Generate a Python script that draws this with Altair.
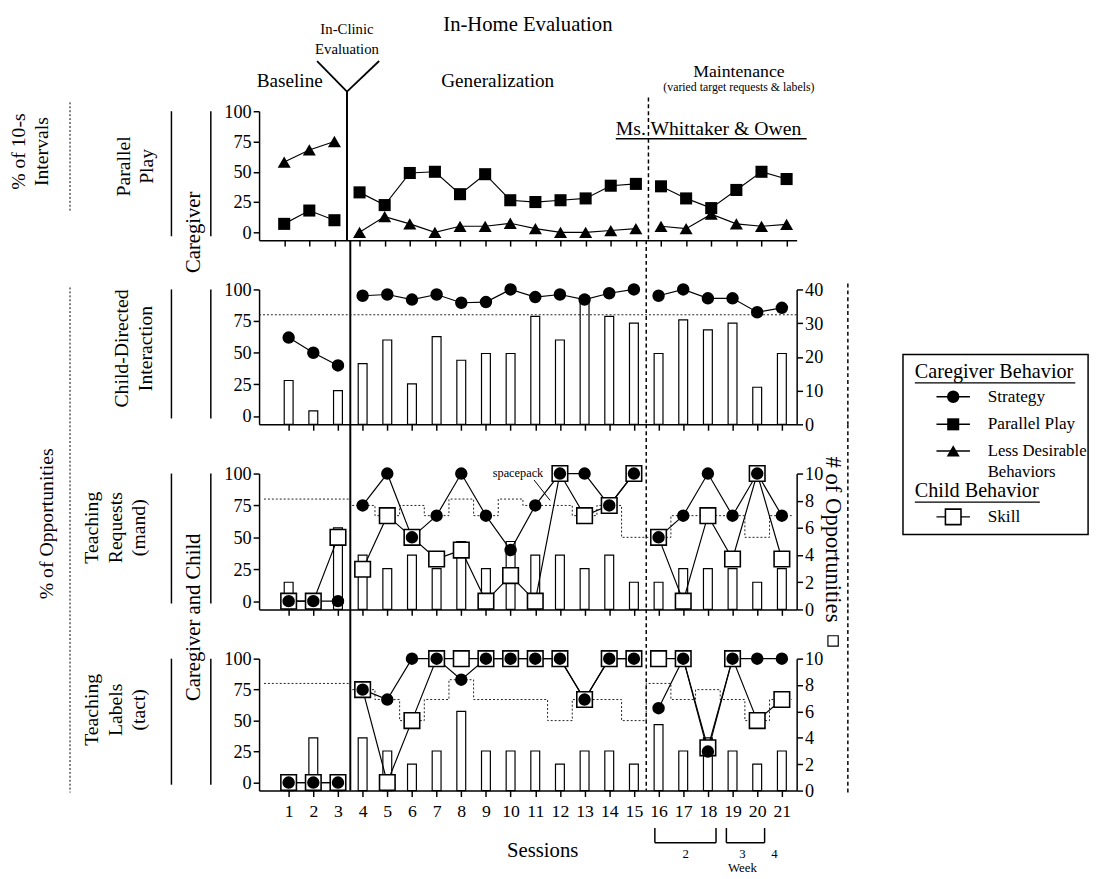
import altair as alt
import pandas as pd

# ---------------- data ----------------
sessions = list(range(1, 22))
phase_of_session = ["Baseline"] * 3 + ["Generalization"] * 12 + ["Maintenance"] * 6
phase_changes = [3.5, 15.5]

# Panel 1: Parallel Play (% of 10-s intervals)
parallel_play = [7, 18, 10, 33, 22.5, 49, 50, 31.5, 48, 26.5, 25, 26.5, 28, 38.5, 40, 38, 28, 20, 35, 50, 44]
less_desirable = [58, 68, 75, 0, 13, 7, 0, 5, 5, 7.5, 3, 0, 0, 1.5, 3, 5, 3, 15, 7, 5, 6.5]

# Panel 2: Child-Directed Interaction
cdi_strategy = [62, 50, 40, 95, 96, 92, 96, 89.5, 90, 100, 94, 96, 92, 97, 100, 95, 100, 93, 93, 82, 85.5]
cdi_opportunities = [13, 4, 10, 18, 25, 12, 26, 19, 21, 21, 32, 25, 38, 32, 30, 21, 31, 28, 30, 11, 21]
cdi_criterion = 80

# Panel 3: Teaching Requests (mand)
mand_strategy = [0, 0, 0, 75, 100, 50, 67, 100, 67, 40, 75, 100, 100, 75, 100, 50, 67, 100, 67, 100, 67]
mand_skill = [0, 0, 50, 25, 67, 50, 33, 40, 0, 20, 0, 100, 67, 75, 100, 50, 0, 67, 33, 100, 33]
mand_opportunities = [2, 1, 6, 4, 3, 4, 3, 5, 3, 5, 4, 4, 3, 4, 2, 2, 3, 3, 3, 2, 3]
mand_criterion = [80, 80, 80, 75, 67, 75, 67, 80, 67, 80, 75, 75, 67, 75, 50, 50, 67, 67, 67, 50, 67]

# Panel 4: Teaching Labels (tact)
tact_strategy = [0, 0, 0, 75, 67, 100, 100, 83, 100, 100, 100, 100, 67, 100, 100, 60, 100, 25, 100, 100, 100]
tact_skill = [0, 0, 0, 75, 0, 50, 100, 100, 100, 100, 100, 100, 67, 100, 100, 100, 100, 28, 100, 50, 67]
tact_opportunities = [1, 4, 1, 4, 3, 2, 3, 6, 3, 3, 3, 2, 3, 3, 2, 5, 3, 4, 3, 2, 3]
tact_criterion = [80, 80, 80, 75, 67, 50, 67, 83, 67, 67, 67, 50, 67, 67, 50, 80, 67, 75, 67, 50, 67]

left_ticks = [0, 25, 50, 75, 100]
cdi_opp_ticks = [0, 10, 20, 30, 40]
teach_opp_ticks = [0, 2, 4, 6, 8, 10]

week_bracket_start = [15.85, 18.75]
week_bracket_end = [18.33, 20.3]
week_labels = ["2", "3", "4"]
week_label_pos = [17.1, 19.4, 20.7]

# ---------------- layout constants ----------------
FONT = "Liberation Serif"
W, GAP = 546, 50
H1, H2, H3, H4 = 131, 137, 138, 134
XMAX = 21.4
YMIN = -6.5
ONE = pd.DataFrame({"k": [0]})


def series(vals):
    return pd.DataFrame({"session": sessions, "phase": phase_of_session, "value": vals})


def criterion_df(vals):
    return pd.DataFrame({"session": [0] + sessions + [XMAX], "value": [vals[0]] + vals + [vals[-1]]})


def make_X(labels):
    def X(field="session"):
        return alt.X(
            f"{field}:Q",
            scale=alt.Scale(domain=[0, XMAX], nice=False, zero=False),
            axis=alt.Axis(values=sessions, labels=labels, title=None, grid=False,
                          tickSize=6, tickWidth=1.5, tickColor="black",
                          domainWidth=1.5, domainColor="black",
                          labelFont=FONT, labelFontSize=18, labelColor="black",
                          labelPadding=6, labelFlush=False, labelOverlap=False),
        )
    return X


def Y(field="value"):
    return alt.Y(
        f"{field}:Q",
        scale=alt.Scale(domain=[YMIN, 100], nice=False, zero=False),
        axis=alt.Axis(values=left_ticks, title=None, grid=False, orient="left",
                      tickSize=6, tickWidth=1.5, tickColor="black",
                      domainWidth=1.5, domainColor="black",
                      labelFont=FONT, labelFontSize=18.5, labelColor="black",
                      labelPadding=2, labelFlush=False, labelOverlap=False),
    )


def YR(top, ticks):
    return alt.Y(
        "opps:Q",
        scale=alt.Scale(domain=[0, top], nice=False, zero=True),
        axis=alt.Axis(values=ticks, title=None, grid=False, orient="right",
                      tickSize=6, tickWidth=1.5, tickColor="black",
                      domainWidth=1.5, domainColor="black",
                      labelFont=FONT, labelFontSize=18.5, labelColor="black",
                      labelPadding=2, labelFlush=False, labelOverlap=False),
    )


def txt(text, x, y, size, angle=0, align="center", baseline="middle"):
    kw = dict(text=text, font=FONT, fontSize=size, color="black", align=align, baseline=baseline)
    if angle:
        kw["angle"] = angle
    return alt.Chart(ONE).mark_text(**kw).encode(x=alt.value(x), y=alt.value(y))


def prule(x1, y1, x2=None, y2=None, width=1.5, dash=None):
    kw = dict(color="black", strokeWidth=width)
    if dash:
        kw["strokeDash"] = dash
    enc = dict(x=alt.value(x1), y=alt.value(y1))
    if x2 is not None:
        enc["x2"] = alt.value(x2)
    if y2 is not None:
        enc["y2"] = alt.value(y2)
    return alt.Chart(ONE).mark_rule(**kw).encode(**enc)


def phase_lines(X, h, top_solid, top_dashed):
    solid = alt.Chart(pd.DataFrame({"session": [phase_changes[0]]})).mark_rule(
        color="black", strokeWidth=2).encode(x=X(), y=alt.value(top_solid), y2=alt.value(h))
    dashed = alt.Chart(pd.DataFrame({"session": [phase_changes[1]]})).mark_rule(
        color="black", strokeWidth=1.5, strokeDash=[4, 3]).encode(x=X(), y=alt.value(top_dashed), y2=alt.value(h))
    return [solid, dashed]


def line_pts(X, vals, shape, size, open_=False, width=1.2):
    df = series(vals)
    line = alt.Chart(df).mark_line(color="black", strokeWidth=width).encode(x=X(), y=Y(), detail="phase:N")
    if open_:
        pts = alt.Chart(df).mark_point(shape=shape, size=size, filled=True, fill="white",
                                       stroke="black", strokeWidth=1.6, opacity=1).encode(x=X(), y=Y())
    else:
        pts = alt.Chart(df).mark_point(shape=shape, size=size, filled=True, color="black",
                                       opacity=1).encode(x=X(), y=Y())
    return line, pts


def bars(X, vals, top, ticks):
    df = pd.DataFrame({"session": sessions, "opps": vals})
    return alt.Chart(df).mark_bar(size=9, fill="white", stroke="black", strokeWidth=1.2,
                                  orient="vertical").encode(x=X(), y=YR(top, ticks))


def step_line(X, vals):
    return alt.Chart(criterion_df(vals)).mark_line(
        interpolate="step", color="#222", strokeWidth=1, strokeDash=[2, 2]).encode(x=X(), y=Y())


SQ, TRI, CIR, OSQ = 150, 175, 160, 250

# ---------------- Panel 1 ----------------
X1 = make_X(False)
pp_line, pp_pts = line_pts(X1, parallel_play, "square", SQ)
ld_line, ld_pts = line_pts(X1, less_desirable, "triangle-up", TRI)

headers = pd.DataFrame({"session": [1.22, 9.5], "label": ["Baseline", "Generalization"]})
hdr = alt.Chart(headers).mark_text(font=FONT, fontSize=19.5, color="black").encode(
    x=X1(), y=alt.value(-31), text="label:N")
maint = alt.Chart(pd.DataFrame({"session": [19.1]})).mark_text(
    text="Maintenance", font=FONT, fontSize=18, color="black").encode(x=X1(), y=alt.value(-40))
varied = alt.Chart(pd.DataFrame({"session": [19.1]})).mark_text(
    text="(varied target requests & labels)", font=FONT, fontSize=12, color="black").encode(x=X1(), y=alt.value(-25))
title = alt.Chart(pd.DataFrame({"session": [10.7]})).mark_text(
    text="In-Home Evaluation", font=FONT, fontSize=21, color="black").encode(x=X1(), y=alt.value(-87))
clinic = alt.Chart(pd.DataFrame({"session": [3.5, 3.5], "label": ["In-Clinic", "Evaluation"],
                                 "py": [-83, -63]})).mark_text(font=FONT, fontSize=15, color="black").encode(
    x=X1(), y=alt.Y("py:Q", scale=None), text="label:N")
vee = alt.Chart(pd.DataFrame({"session": [2.31, 4.78], "session2": [3.5, 3.5]})).mark_rule(
    color="black", strokeWidth=1.8).encode(x=X1(), x2="session2:Q", y=alt.value(-51), y2=alt.value(-20))
ms = alt.Chart(pd.DataFrame({"session": [14.2]})).mark_text(
    text="Ms. Whittaker & Owen", font=FONT, fontSize=20, color="black", align="left",
    baseline="alphabetic").encode(x=X1(), y=alt.value(24))
ms_ul = alt.Chart(pd.DataFrame({"session": [14.2], "session2": [21.8]})).mark_rule(
    color="black", strokeWidth=1.5).encode(x=X1(), x2="session2:Q", y=alt.value(28))

p1_left = [
    txt("% of 10-s", -244, 41, 20, angle=270),
    txt("Intervals", -220, 41, 20, angle=270),
    prule(-192, -9, y2=103, width=1, dash=[2, 2]),
    txt("Parallel", -137, 56, 20, angle=270),
    txt("Play", -114, 56, 20, angle=270),
    prule(-89, 0, y2=H1 - 4, width=1.5),
    prule(-49, 0, y2=H1 - 4, width=1.5),
    txt("Caregiver", -66, 123, 21, angle=270),
]

p1 = alt.layer(*phase_lines(X1, H1, -20, -14), pp_line, ld_line, pp_pts, ld_pts,
               hdr, maint, varied, title, clinic, vee, ms, ms_ul, *p1_left).properties(width=W, height=H1)

# ---------------- Panel 2 ----------------
X2 = make_X(False)
cdi_line, cdi_pts = line_pts(X2, cdi_strategy, "circle", CIR)
crit2 = alt.Chart(pd.DataFrame({"value": [cdi_criterion]})).mark_rule(
    color="#222", strokeWidth=1, strokeDash=[2, 2]).encode(y=Y())

LX, LY = 654, 4
legend = [
    alt.Chart(ONE).mark_rect(fill="white", stroke="black", strokeWidth=1.5).encode(
        x=alt.value(LX), x2=alt.value(LX + 188), y=alt.value(LY + 62), y2=alt.value(LY + 245)),
    txt("Caregiver Behavior", LX + 12, LY + 80, 20.5, align="left"),
    prule(LX + 12, LY + 91, x2=LX + 175, width=1.3),
    prule(LX + 34, LY + 105, x2=LX + 68, width=1.5),
    alt.Chart(ONE).mark_point(shape="circle", size=CIR, filled=True, color="black", opacity=1).encode(
        x=alt.value(LX + 51), y=alt.value(LY + 105)),
    txt("Strategy", LX + 86, LY + 105, 17.5, align="left"),
    prule(LX + 34, LY + 133, x2=LX + 68, width=1.5),
    alt.Chart(ONE).mark_point(shape="square", size=SQ, filled=True, color="black", opacity=1).encode(
        x=alt.value(LX + 51), y=alt.value(LY + 133)),
    txt("Parallel Play", LX + 86, LY + 133, 17.5, align="left"),
    prule(LX + 34, LY + 160, x2=LX + 68, width=1.5),
    alt.Chart(ONE).mark_point(shape="triangle-up", size=TRI, filled=True, color="black", opacity=1).encode(
        x=alt.value(LX + 51), y=alt.value(LY + 160)),
    txt("Less Desirable", LX + 86, LY + 160, 17, align="left"),
    txt("Behaviors", LX + 86, LY + 181, 17, align="left"),
    txt("Child Behavior", LX + 12, LY + 201, 20.5, align="left"),
    prule(LX + 12, LY + 212, x2=LX + 139, width=1.3),
    prule(LX + 34, LY + 227, x2=LX + 68, width=1.5),
    alt.Chart(ONE).mark_point(shape="square", size=OSQ, filled=True, fill="white", stroke="black",
                              strokeWidth=1.6, opacity=1).encode(x=alt.value(LX + 51), y=alt.value(LY + 227)),
    txt("Skill", LX + 86, LY + 227, 17.5, align="left"),
]

p2_left = [
    txt("% of Opportunities", -215, 238, 20, angle=270),
    prule(-192, -2, y2=H2 + GAP + H3 + GAP + H4 + 2, width=1, dash=[2, 2]),
    txt("Child-Directed", -139, 60, 20, angle=270),
    txt("Interaction", -115, 60, 20, angle=270),
    prule(-89, 0, y2=H2 - 6, width=1.5),
    prule(-49, 0, y2=H2 - 6, width=1.5),
    prule(W + 52, -6, y2=H2, width=1.5, dash=[4, 3]),
]

p2_inner = alt.layer(*phase_lines(X2, H2, -GAP, -GAP), crit2, cdi_line, cdi_pts, *p2_left, *legend)
p2 = alt.layer(bars(X2, cdi_opportunities, 40, cdi_opp_ticks), p2_inner).resolve_scale(
    y="independent").properties(width=W, height=H2)

# ---------------- Panel 3 ----------------
X3 = make_X(False)
m_skill_line, m_skill_pts = line_pts(X3, mand_skill, "square", OSQ, open_=True)
m_str_line, m_str_pts = line_pts(X3, mand_strategy, "circle", CIR)
spacepack = alt.Chart(pd.DataFrame({"session": [10.3], "value": [100]})).mark_text(
    text="spacepack", font=FONT, fontSize=12.5, color="black").encode(x=X3(), y=Y())
leader = alt.Chart(pd.DataFrame({"session": [10.95], "session2": [11.6], "value": [95], "value2": [79]})).mark_rule(
    color="black", strokeWidth=1).encode(x=X3(), x2="session2:Q", y=Y(), y2="value2:Q")

p3_left = [
    txt("Teaching", -170, 55, 20, angle=270),
    txt("Requests", -145, 55, 20, angle=270),
    txt("(mand)", -122, 55, 20, angle=270),
    prule(-89, 0, y2=H3 - 6, width=1.5),
    prule(-49, 0, y2=H3 - 6, width=1.5),
    txt("Caregiver and Child", -66, 146, 21, angle=270),
    prule(W + 52, -GAP, y2=H3, width=1.5, dash=[4, 3]),
    txt("# of Opportunities", W + 37, 67, 23, angle=90),
    alt.Chart(ONE).mark_point(shape="square", size=110, filled=True, fill="white", stroke="black",
                              strokeWidth=1.2, opacity=1).encode(x=alt.value(W + 37), y=alt.value(170)),
]

p3_inner = alt.layer(*phase_lines(X3, H3, -GAP, -GAP), step_line(X3, mand_criterion), m_skill_line, m_str_line,
                     m_skill_pts, m_str_pts, spacepack, leader, *p3_left)
p3 = alt.layer(bars(X3, mand_opportunities, 10, teach_opp_ticks), p3_inner).resolve_scale(
    y="independent").properties(width=W, height=H3)

# ---------------- Panel 4 ----------------
X4 = make_X(True)
t_skill_line, t_skill_pts = line_pts(X4, tact_skill, "square", OSQ, open_=True)
t_str_line, t_str_pts = line_pts(X4, tact_strategy, "circle", CIR)

sess_lbl = alt.Chart(pd.DataFrame({"session": [11.3]})).mark_text(
    text="Sessions", font=FONT, fontSize=21, color="black").encode(x=X4(), y=alt.value(195))
br_df = pd.DataFrame({"session": week_bracket_start, "session2": week_bracket_end})
br_h = alt.Chart(br_df).mark_rule(color="black", strokeWidth=1.5).encode(
    x=X4(), x2="session2:Q", y=alt.value(187))
br_v = alt.Chart(pd.DataFrame({"session": week_bracket_start + week_bracket_end})).mark_rule(
    color="black", strokeWidth=1.5).encode(x=X4(), y=alt.value(172), y2=alt.value(187))
wk = alt.Chart(pd.DataFrame({"session": week_label_pos, "label": week_labels})).mark_text(
    font=FONT, fontSize=13, color="black").encode(x=X4(), y=alt.value(198), text="label:N")
week_word = alt.Chart(pd.DataFrame({"session": [week_label_pos[1]]})).mark_text(
    text="Week", font=FONT, fontSize=13, color="black").encode(x=X4(), y=alt.value(213))

p4_left = [
    txt("Teaching", -170, 52, 20, angle=270),
    txt("Labels", -145, 52, 20, angle=270),
    txt("(tact)", -122, 52, 20, angle=270),
    prule(-89, 0, y2=H4 - 6, width=1.5),
    prule(-49, 0, y2=H4 - 6, width=1.5),
    prule(W + 52, -GAP, y2=H4 + 2, width=1.5, dash=[4, 3]),
]

p4_inner = alt.layer(*phase_lines(X4, H4, -GAP, -GAP), step_line(X4, tact_criterion), t_skill_line, t_str_line,
                     t_skill_pts, t_str_pts, sess_lbl, br_h, br_v, wk, week_word, *p4_left)
p4 = alt.layer(bars(X4, tact_opportunities, 10, teach_opp_ticks), p4_inner).resolve_scale(
    y="independent").properties(width=W, height=H4)

chart = alt.vconcat(p1, p2, p3, p4, spacing=GAP, bounds="flush").resolve_scale(
    x="independent").configure_view(stroke=None).properties(
    padding={"left": 0, "top": 0, "right": 5, "bottom": 0}, background="white")

chart.save("out.html", embed_options={"renderer": "svg", "actions": False})
